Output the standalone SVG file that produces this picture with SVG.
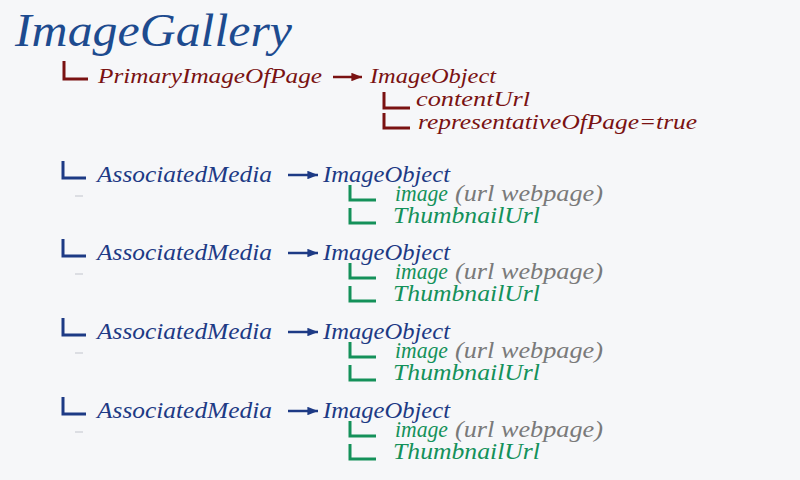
<svg xmlns="http://www.w3.org/2000/svg" width="800" height="480" viewBox="0 0 800 480">
<defs>
<style>
text{font-family:'Liberation Serif','DejaVu Serif',serif;font-style:italic}
.t{font-size:46px;fill:#1d4b8f}
.r{font-size:22px;fill:#7a1212}
.rs{font-size:20px}
.b{font-size:23px;fill:#1d3a85}
.g{font-size:23px;fill:#14915a}
.gr{fill:#7a7a7a}
.br{fill:none;stroke:#7a1212;stroke-width:3}
.bb{fill:none;stroke:#1d3a85;stroke-width:3}
.bg{fill:none;stroke:#14915a;stroke-width:3}
.faint{stroke:#dcdee3;stroke-width:2}
</style>
<marker id="ar" viewBox="0 0 10 8" refX="10" refY="4" markerWidth="5" markerHeight="3.4" orient="auto" markerUnits="strokeWidth"><path d="M0,0 L10,4 L0,8 Z" fill="#7a1212"/></marker>
<marker id="ab" viewBox="0 0 10 8" refX="10" refY="4" markerWidth="5" markerHeight="3.4" orient="auto" markerUnits="strokeWidth"><path d="M0,0 L10,4 L0,8 Z" fill="#1d3a85"/></marker>
<g id="assoc">
<path class="bb" d="M63,161 V178 H86"/>
<line class="faint" x1="75" y1="196" x2="83" y2="196"/>
<text class="b" x="97" y="182" textLength="175" lengthAdjust="spacingAndGlyphs">AssociatedMedia</text>
<line x1="288" y1="175" x2="318" y2="175" stroke="#1d3a85" stroke-width="2.5" marker-end="url(#ab)"/>
<text class="b" x="323" y="182" textLength="127" lengthAdjust="spacingAndGlyphs">ImageObject</text>
<path class="bg" d="M350,185 V200 H376"/>
<text class="g" x="395" y="201" textLength="53" lengthAdjust="spacingAndGlyphs">image</text>
<text class="g gr" x="455" y="201" textLength="148" lengthAdjust="spacingAndGlyphs">(url webpage)</text>
<path class="bg" d="M350,208 V223 H376"/>
<text class="g" x="393" y="223" textLength="147" lengthAdjust="spacingAndGlyphs">ThumbnailUrl</text>
</g>
</defs>
<rect width="800" height="480" fill="#f6f7f9"/>
<g id="title"><text class="t" x="15" y="46" textLength="277" lengthAdjust="spacingAndGlyphs">ImageGallery</text></g>
<g id="primary">
<path class="br" d="M64,61 V79 H88"/>
<text class="r" x="98" y="83" textLength="224" lengthAdjust="spacingAndGlyphs">PrimaryImageOfPage</text>
</g>
<g id="primary-object">
<text class="r" x="370" y="83" textLength="126" lengthAdjust="spacingAndGlyphs">ImageObject</text>
<path class="br" d="M384,92 V108 H410"/>
<text class="r rs" x="416" y="106" textLength="114" lengthAdjust="spacingAndGlyphs">contentUrl</text>
<path class="br" d="M384,113 V128 H410"/>
<text class="r rs" x="418" y="129" textLength="279" lengthAdjust="spacingAndGlyphs">representativeOfPage=true</text>
</g>
<g id="connectors">
<line x1="333" y1="77" x2="362" y2="77" stroke="#7a1212" stroke-width="2.5" marker-end="url(#ar)"/>
</g>
<g id="assoc1"><use href="#assoc"/></g>
<g id="assoc2"><use href="#assoc" y="78"/></g>
<g id="assoc3"><use href="#assoc" y="157"/></g>
<g id="assoc4"><use href="#assoc" y="236"/></g>
</svg>
